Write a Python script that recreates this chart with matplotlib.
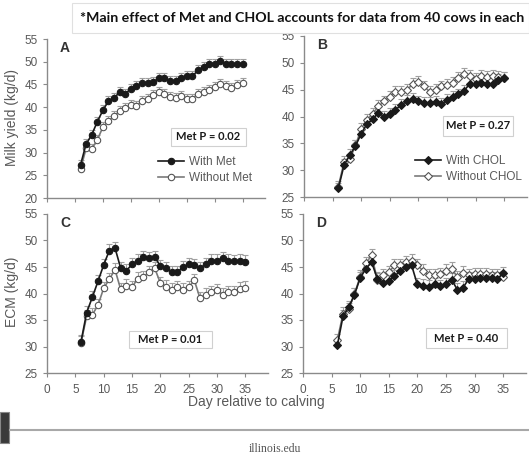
import numpy as np
import matplotlib

matplotlib.use("Agg")
import matplotlib.pyplot as plt
from matplotlib.patches import Rectangle

# Jours relatifs au vêlage
jours = list(range(6, 36))

# Panneau A : production laitière (Met)
lait_avec_met = [27.3, 31.9, 33.9, 36.8, 39.3, 41.4, 42.0, 43.3, 43.0, 44.0, 44.6, 45.4,
                 45.4, 45.5, 46.4, 46.4, 45.7, 45.7, 46.4, 46.9, 46.8, 48.1, 48.9, 49.6,
                 49.6, 50.1, 49.6, 49.5, 49.6, 49.6]
lait_sans_met = [26.4, 30.9, 30.8, 32.8, 35.6, 37.0, 38.0, 39.2, 39.8, 40.4, 40.2, 41.4,
                 41.9, 42.6, 43.4, 43.0, 42.3, 42.0, 42.4, 41.7, 41.9, 42.9, 43.3, 43.8,
                 44.4, 45.0, 44.7, 44.2, 44.8, 45.3]

# Panneau B : production laitière (CHOL)
lait_avec_chol = [26.6, 30.9, 32.8, 34.5, 36.8, 38.6, 39.5, 40.7, 40.0, 40.4, 41.3, 42.1,
                  42.9, 43.2, 42.8, 42.5, 42.5, 42.7, 42.3, 43.0, 43.7, 44.1, 44.8, 46.1,
                  46.1, 46.3, 46.1, 46.0, 46.8, 47.1]
lait_sans_chol = [26.9, 31.5, 32.0, 34.6, 37.7, 39.4, 40.5, 41.9, 42.8, 43.7, 44.6, 44.6,
                  45.0, 46.0, 46.5, 45.6, 44.6, 45.0, 45.6, 45.8, 46.3, 47.1, 48.0, 47.5,
                  47.0, 47.5, 47.3, 47.5, 47.3, 47.1]

# Panneau C : ECM (Met)
ecm_avec_met = [30.9, 36.4, 39.3, 42.3, 45.4, 48.1, 48.6, 44.8, 44.3, 45.5, 46.2, 46.9,
                46.7, 46.9, 45.2, 44.8, 44.0, 44.0, 45.0, 45.5, 45.3, 44.8, 45.5, 46.2,
                46.2, 46.7, 46.2, 46.1, 46.2, 46.0]
ecm_sans_met = [30.7, 35.7, 36.0, 37.8, 41.0, 42.7, 44.5, 40.8, 41.5, 41.2, 42.8, 43.1,
                44.0, 44.8, 42.0, 41.3, 40.7, 41.2, 40.7, 41.2, 42.5, 39.1, 39.8, 40.3,
                40.6, 39.8, 40.3, 40.3, 40.9, 41.1]

# Panneau D : ECM (CHOL)
ecm_avec_chol = [30.2, 35.7, 37.4, 39.8, 42.9, 44.7, 45.9, 42.8, 42.0, 42.3, 43.3, 44.2,
                 45.0, 45.3, 41.7, 41.5, 41.3, 41.7, 41.4, 41.8, 42.6, 40.7, 41.1, 42.8,
                 42.8, 42.9, 42.9, 42.9, 42.8, 43.8]
ecm_sans_chol = [31.2, 36.2, 37.1, 39.9, 43.2, 45.7, 47.2, 42.6, 43.5, 44.0, 45.3, 45.3,
                 45.9, 46.2, 45.3, 44.3, 43.4, 43.5, 43.7, 44.3, 44.7, 43.1, 43.9, 43.5,
                 43.6, 43.7, 43.6, 43.5, 43.5, 43.1]

# Erreurs standard (estimées)
se_lait = 1.1
se_ecm = 1.2

valeurs_p = ["0.02", "0.27", "0.01", "0.40"]

W, H = 529, 454
fig = plt.figure(figsize=(W / 100, H / 100), dpi=100)
plt.rcParams['font.family'] = ['Liberation Sans', 'DejaVu Sans']

gris_axe = '#8a8a8a'
gris_texte = '#595959'


def axes_px(gauche, haut, droite, bas):
    return fig.add_axes([gauche / W, 1 - bas / H, (droite - gauche) / W, (bas - haut) / H])


def fig_txt(x, y, s, **kw):
    fig.text(x / W, 1 - y / H, s, **kw)


def tracer(ax, y1, y2, se, marqueur, lab1, lab2, ymin, labels_x):
    x = np.array(jours)
    for y, plein, lab in [(y2, False, lab2), (y1, True, lab1)]:
        y = np.array(y)
        ax.errorbar(x, y, yerr=[np.zeros_like(y), np.full_like(y, se)], fmt='none',
                    ecolor='#a0a0a0', elinewidth=0.8, capsize=2.2, capthick=0.8, zorder=1)
        ax.plot(x, y, marker=marqueur, linestyle='-',
                color='#1a1a1a' if plein else '#7a7a7a', lw=1.2,
                markerfacecolor='#1a1a1a' if plein else 'white',
                markeredgecolor='#1a1a1a' if plein else '#555555',
                markersize=4.6 if marqueur == 'o' else 4.4, markeredgewidth=0.8,
                label=lab, zorder=3 if plein else 2)
    ax.set_xlim(0, 39)
    ax.set_ylim(ymin, 55)
    ax.set_xticks(range(0, 40, 5))
    ax.set_yticks(range(ymin, 56, 5))
    if not labels_x:
        ax.set_xticklabels([])
    for s in ['top', 'right']:
        ax.spines[s].set_visible(False)
    for s in ['left', 'bottom']:
        ax.spines[s].set_color(gris_axe)
        ax.spines[s].set_linewidth(1.0)
    ax.tick_params(colors=gris_axe, labelcolor=gris_texte, labelsize=8.5,
                   length=3, width=0.8, direction='out')
    ax.tick_params(axis='x', pad=5)


ax_a = axes_px(47, 39, 265, 198)
tracer(ax_a, lait_avec_met, lait_sans_met, se_lait, 'o', 'With Met', 'Without Met', 20, False)
ax_b = axes_px(304, 36, 527, 197)
tracer(ax_b, lait_avec_chol, lait_sans_chol, se_lait, 'D', 'With CHOL', 'Without CHOL', 25, False)
ax_c = axes_px(47, 214, 268, 373)
tracer(ax_c, ecm_avec_met, ecm_sans_met, se_ecm, 'o', '', '', 25, True)
ax_d = axes_px(303, 214, 526, 373)
tracer(ax_d, ecm_avec_chol, ecm_sans_chol, se_ecm, 'D', '', '', 25, True)

# Légendes (placées en pixels de la figure)
for ax, (lx, ly) in [(ax_a, (150, 148)), (ax_b, (407, 147))]:
    h, l = ax.get_legend_handles_labels()
    ax.legend(h[::-1], l[::-1], loc='upper left', bbox_to_anchor=(lx / W, 1 - ly / H),
              bbox_transform=fig.transFigure, frameon=False,
              fontsize=8.5, labelcolor=gris_texte, handlelength=2.2, handletextpad=0.4,
              labelspacing=0.3, borderpad=0.2)

# Lettres des panneaux
for ax, lettre in zip([ax_a, ax_b, ax_c, ax_d], "ABCD"):
    ax.text(0.06, 0.985, lettre, transform=ax.transAxes, fontsize=10, fontweight='bold',
            color='#333333', va='top', ha='left')

# Boîtes "Met P = ..."
boites = [(171, 128, 246, 146), (443, 116, 513, 136), (129, 331, 212, 348), (426, 328, 507, 348)]
for (x0, y0, x1, y1), p in zip(boites, valeurs_p):
    fig.patches.append(Rectangle((x0 / W, 1 - y1 / H), (x1 - x0) / W, (y1 - y0) / H,
                                 transform=fig.transFigure, facecolor='white',
                                 edgecolor='#d0d0d0', lw=0.8, zorder=5))
    fig_txt((x0 + x1) / 2, (y0 + y1) / 2, f"Met P = {p}", ha='center', va='center',
            fontsize=8, fontweight='bold', family=['Lato', 'DejaVu Sans'],
            color='#1a1a1a', zorder=6)

# Titres des axes
fig_txt(12, 118, "Milk yield (kg/d)", rotation=90, ha='center', va='center',
        fontsize=10, color=gris_texte)
fig_txt(12, 292, "ECM (kg/d)", rotation=90, ha='center', va='center',
        fontsize=10, color=gris_texte)
fig_txt(256, 402, "Day relative to calving", ha='center', va='center',
        fontsize=10, color=gris_texte)

# Bandeau du haut
fig.patches.append(Rectangle((72 / W, 1 - 33 / H), (W - 72) / W, 30 / H,
                             transform=fig.transFigure, facecolor='white',
                             edgecolor='#e0e0e0', lw=0.8))
fig_txt(80, 18, "*Main effect of Met and CHOL accounts for data from 40 cows in each",
        ha='left', va='center', fontsize=10.2, fontweight='bold',
        family=['Lato', 'DejaVu Sans'], color='#111111')

# Pied de page
fig.lines.append(plt.Line2D([10 / W, 1], [1 - 430 / H, 1 - 430 / H],
                            transform=fig.transFigure, color='#a8a8a8', lw=1.5))
fig.patches.append(Rectangle((0, 1 - 443 / H), 9 / W, 31 / H, transform=fig.transFigure,
                             facecolor='#3a3a3a', edgecolor='#888888', lw=0.8))
fig_txt(275, 449, "illinois.edu", ha='center', va='center', fontsize=8.5,
        family=['Liberation Serif', 'DejaVu Serif'], color='#555555')

fig.savefig('out.png', dpi=100)
